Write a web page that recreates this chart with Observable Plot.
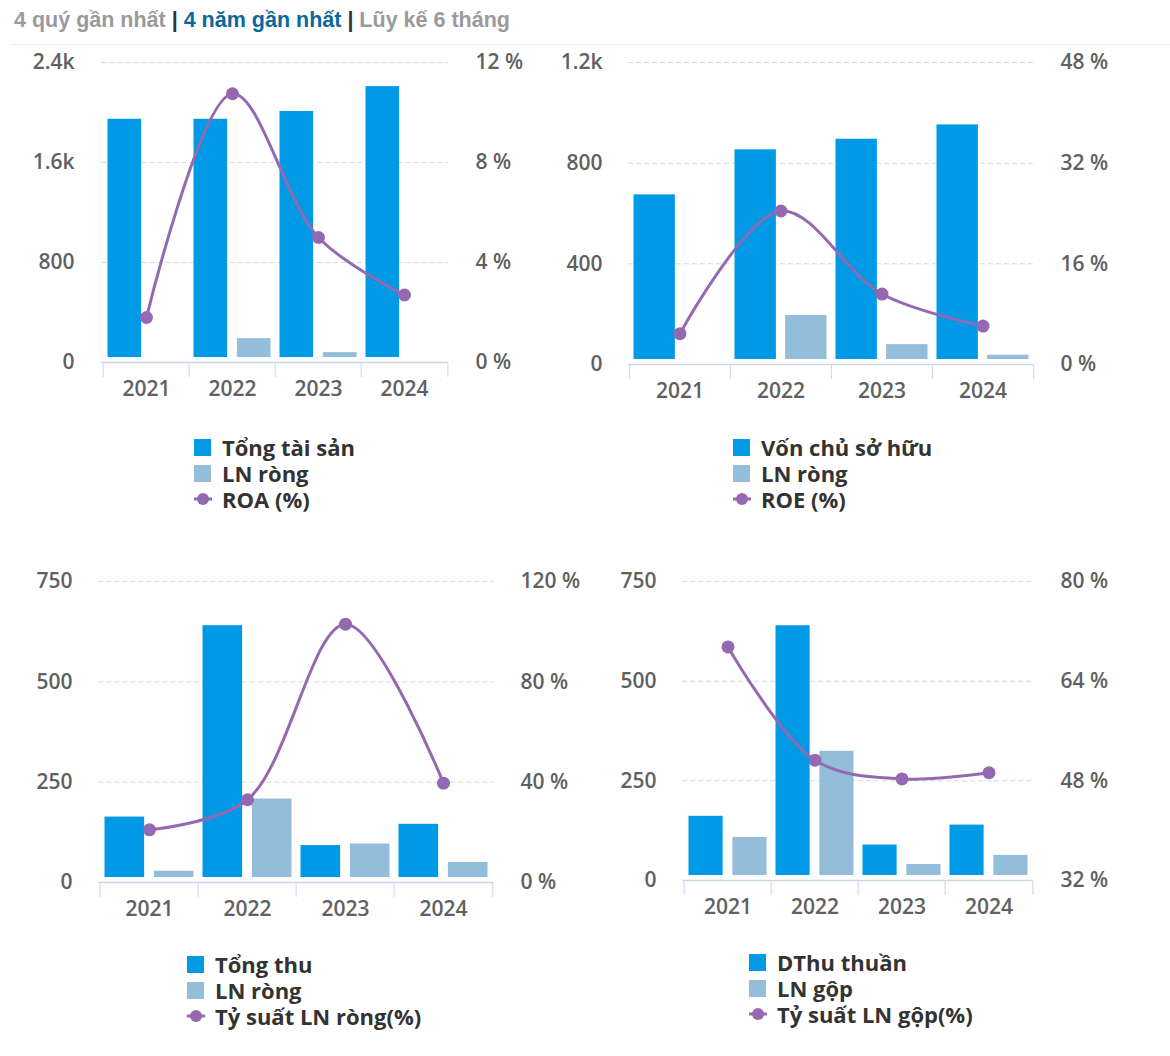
<!DOCTYPE html>
<html><head><meta charset="utf-8">
<script src="https://cdn.jsdelivr.net/npm/d3@7"></script>
<script src="https://cdn.jsdelivr.net/npm/@observablehq/plot@0.6"></script>
<style>
body{margin:0;background:#fff;width:1170px;height:1056px;position:relative;overflow:hidden;font-family:"Open Sans",sans-serif;}
.abs{position:absolute;}
#hdr{left:14px;top:8px;font:bold 21.5px "Liberation Sans",Arial,sans-serif;color:#9a9a9a;white-space:nowrap;}
#hdr .sep{color:#333;}
#hdr .act{color:#0b679c;}
.leg{position:absolute;font:bold 22px "Open Sans",sans-serif;color:#333;line-height:26px;}
.leg .it{height:26px;display:flex;align-items:center;white-space:nowrap;}
.leg .it span{line-height:22px;display:block;}
.leg .sw{width:17px;height:17px;margin-right:11px;flex:none;}
.leg svg{margin-right:10px;flex:none;}
</style></head><body>
<div id="hdr" class="abs">4 quý gần nhất <span class="sep">|</span> <span class="act">4 năm gần nhất</span> <span class="sep">|</span> Lũy kế 6 tháng</div>
<div class="abs" style="left:12px;right:0;top:44px;height:1px;background:#ececec"></div>
<div id="root"></div>
<script>
const years = ["2021", "2022", "2023", "2024"];

// Panel 1
const tongTaiSan = [1946, 1946, 2008, 2207];
const lnRong1 = [25, 191, 79, 37];
const roa = [1.8, 10.75, 5.0, 2.7];
// Panel 2
const vonChuSoHuu = [674, 853, 895, 952];
const lnRong2 = [18, 195, 79, 37];
const roe = [4.9, 24.4, 11.2, 6.1];
// Panel 3
const tongThu = [163, 640, 92, 145];
const lnRong3 = [28, 208, 96, 50];
const tySuatLNRong = [21, 33, 103, 39.6];
// Panel 4
const dthuThuan = [161, 639, 89, 139];
const lnGop = [108, 324, 40, 63];
const tySuatLNGop = [69.5, 51.3, 48.3, 49.3];

// Axis tick labels
const ticks1 = [0, 800, 1600, 2400];
const tickLabels1 = ["0", "800", "1.6k", "2.4k"];
const ticks2 = [0, 400, 800, 1200];
const tickLabels2 = ["0", "400", "800", "1.2k"];
const ticks3 = [0, 250, 500, 750];
const tickLabels3 = ["0", "250", "500", "750"];

const C_BAR1 = "#0099e6", C_BAR2 = "#93bdd8", C_LINE = "#9569b1", C_AXIS = "#ccd6eb";

function panel(cfg) {
  const {left, top, width, height, mL, mR, mT, mB, yTicks, yLabels, pctMin, pctMax,
         bar1, bar2, line, padL, padR} = cfg;
  const yMax = yTicks[yTicks.length - 1];
  const bw = (width - mL - mR) / years.length;
  const pad = 4.5, gap = 4.5;
  const rows = years.map((y, i) => ({year: y, a: bar1[i], b: bar2[i], p: line[i]}));
  const toY = p => (p - pctMin) / (pctMax - pctMin) * yMax;
  const fromY = v => Math.round(pctMin + v / yMax * (pctMax - pctMin));
  const plot = Plot.plot({
    width, height, marginLeft: mL, marginRight: mR, marginTop: mT, marginBottom: mB,
    style: {fontFamily: "Open Sans", fontSize: "21px", fontWeight: 600, color: "#606060",
            background: "transparent", overflow: "visible"},
    x: {type: "band", domain: years, padding: 0},
    y: {domain: [0, yMax]},
    marks: [
      Plot.gridY(yTicks.slice(1), {stroke: "#d9d9d9", strokeOpacity: 1, strokeDasharray: "5,3"}),
      Plot.barY(rows, {x: "year", y: "a", fill: C_BAR1, insetLeft: pad, insetRight: bw / 2 + gap, insetBottom: 5}),
      Plot.barY(rows, {x: "year", y: "b", fill: C_BAR2, insetLeft: bw / 2 + gap, insetRight: pad, insetBottom: 5}),
      Plot.ruleY([0], {stroke: C_AXIS, strokeWidth: 1.5}),
      Plot.axisX({tickSize: 0, tickPadding: 19, label: null}),
      Plot.axisX({tickSize: 15, tickFormat: () => "", dx: -bw / 2, stroke: C_AXIS, label: null}),
      Plot.axisX({ticks: [years[years.length - 1]], tickSize: 15, tickFormat: () => "", dx: bw / 2, stroke: C_AXIS, label: null}),
      Plot.axisY({anchor: "left", ticks: yTicks, tickSize: 0, tickPadding: padL,
                  tickFormat: v => yLabels[yTicks.indexOf(v)], label: null}),
      Plot.axisY({anchor: "right", ticks: yTicks, tickSize: 0, tickPadding: padR,
                  tickFormat: v => fromY(v) + " %", label: null}),
      Plot.line(rows, {x: "year", y: d => toY(d.p), stroke: C_LINE, strokeWidth: 3, curve: "catmull-rom"}),
      Plot.dot(rows, {x: "year", y: d => toY(d.p), r: 6.5, fill: C_LINE, stroke: "none"})
    ]
  });
  const div = document.createElement("div");
  div.className = "abs";
  div.style.left = left + "px";
  div.style.top = top + "px";
  div.appendChild(plot);
  document.getElementById("root").appendChild(div);
}

function legend(left, top, labels) {
  const d = document.createElement("div");
  d.className = "leg";
  d.style.left = left + "px";
  d.style.top = top + "px";
  const colors = [C_BAR1, C_BAR2];
  labels.forEach((lab, i) => {
    const it = document.createElement("div");
    it.className = "it";
    if (i < 2) {
      const sw = document.createElement("div");
      sw.className = "sw";
      sw.style.background = colors[i];
      it.appendChild(sw);
    } else {
      const ns = "http://www.w3.org/2000/svg";
      const s = document.createElementNS(ns, "svg");
      s.setAttribute("width", 18); s.setAttribute("height", 14);
      s.innerHTML = `<line x1="0" x2="18" y1="7" y2="7" stroke="${C_LINE}" stroke-width="3"/><circle cx="9" cy="7" r="6" fill="${C_LINE}"/>`;
      it.appendChild(s);
    }
    const t = document.createElement("span");
    t.textContent = lab;
    it.appendChild(t);
    d.appendChild(it);
  });
  document.body.appendChild(d);
}

panel({left: 0, top: 40, width: 560, height: 370, mL: 101, mR: 112, mT: 22, mB: 48,
       yTicks: ticks1, yLabels: tickLabels1, pctMin: 0, pctMax: 12,
       bar1: tongTaiSan, bar2: lnRong1, line: roa, padL: 27, padR: 27});
panel({left: 560, top: 40, width: 610, height: 370, mL: 68, mR: 137, mT: 22, mB: 46,
       yTicks: ticks2, yLabels: tickLabels2, pctMin: 0, pctMax: 48,
       bar1: vonChuSoHuu, bar2: lnRong2, line: roe, padL: 26, padR: 27});
panel({left: 0, top: 560, width: 590, height: 370, mL: 98, mR: 97, mT: 21, mB: 48,
       yTicks: ticks3, yLabels: tickLabels3, pctMin: 0, pctMax: 120,
       bar1: tongThu, bar2: lnRong3, line: tySuatLNRong, padL: 26, padR: 27});
panel({left: 590, top: 560, width: 580, height: 370, mL: 92, mR: 137, mT: 21, mB: 50,
       yTicks: ticks3, yLabels: tickLabels3, pctMin: 32, pctMax: 80,
       bar1: dthuThuan, bar2: lnGop, line: tySuatLNGop, padL: 26, padR: 27});

legend(194, 434, ["Tổng tài sản", "LN ròng", "ROA (%)"]);
legend(733, 434, ["Vốn chủ sở hữu", "LN ròng", "ROE (%)"]);
legend(187, 951, ["Tổng thu", "LN ròng", "Tỷ suất LN ròng(%)"]);
legend(749, 949, ["DThu thuần", "LN gộp", "Tỷ suất LN gộp(%)"]);
</script>
</body></html>
